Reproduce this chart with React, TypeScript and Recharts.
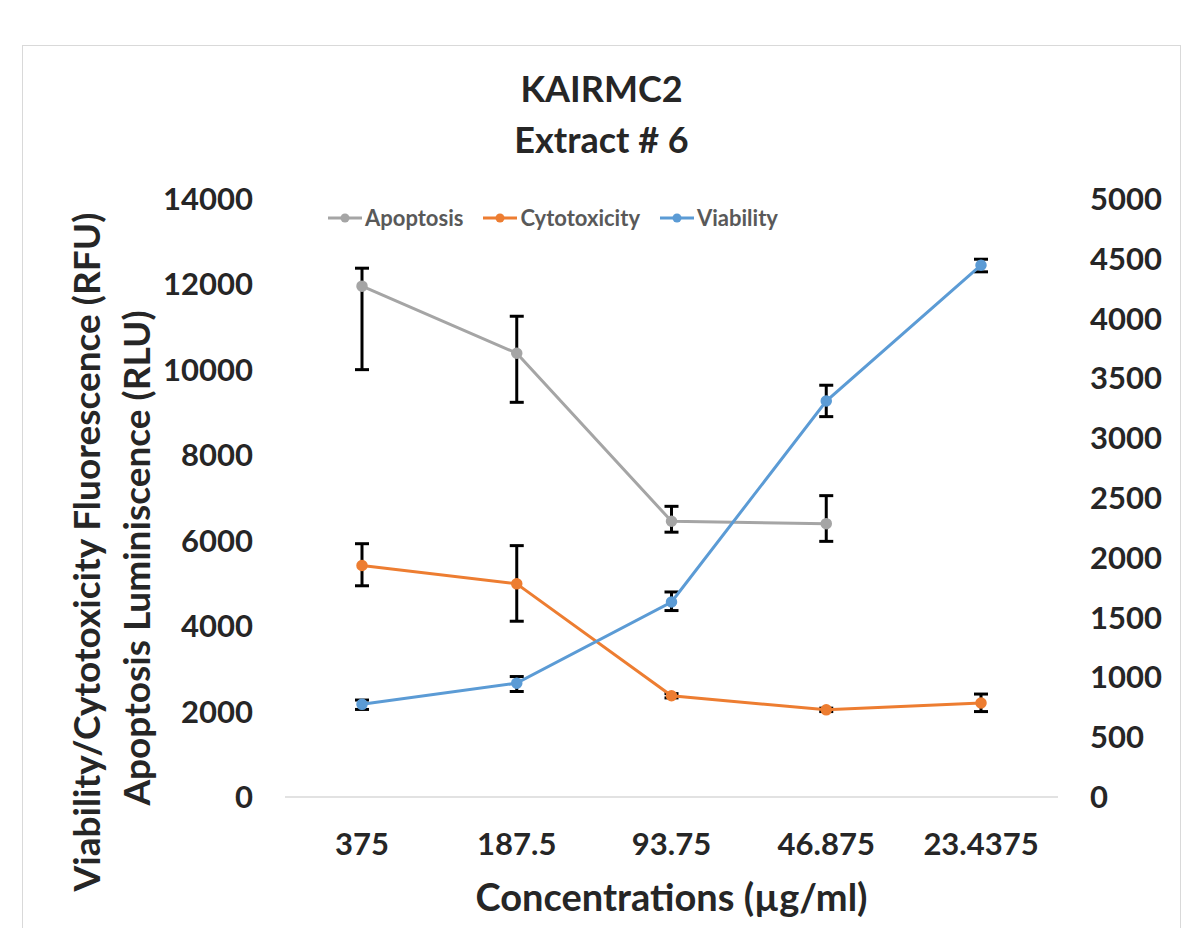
import React from 'react';
import { LineChart, Line, XAxis, YAxis, ErrorBar, Legend, Label } from 'recharts';

const concentrations = ['375', '187.5', '93.75', '46.875', '23.4375'];
const apoptosis = [11960, 10390, 6455, 6400, null];
const apoptosisErr = [[1955, 420], [1150, 865], [255, 350], [415, 655], null];
const cytotoxicity = [5420, 4990, 2370, 2040, 2200];
const cytotoxicityErr = [[475, 510], [875, 895], [50, 50], [40, 40], [200, 210]];
const viability = [2170, 2665, 4565, 9270, 12450];
const viabilityErr = [[120, 100], [195, 155], [200, 235], [365, 370], [155, 140]];

const leftTicks = [0, 2000, 4000, 6000, 8000, 10000, 12000, 14000];
const rightTicks = [0, 500, 1000, 1500, 2000, 2500, 3000, 3500, 4000, 4500, 5000];

const series = [
  { key: 'apoptosis', name: 'Apoptosis', color: '#A5A5A5' },
  { key: 'cytotoxicity', name: 'Cytotoxicity', color: '#ED7D31' },
  { key: 'viability', name: 'Viability', color: '#5B9BD5' },
];

const data = concentrations.map((c, i) => ({
  conc: c,
  apoptosis: apoptosis[i],
  apoptosisErr: apoptosisErr[i],
  cytotoxicity: cytotoxicity[i],
  cytotoxicityErr: cytotoxicityErr[i],
  viability: viability[i],
  viabilityErr: viabilityErr[i],
}));

const FONT = 'Lato, "Open Sans", sans-serif';
const TEXT = '#262626';

const YTitle = () => (
  <g>
    <text
      x={85}
      y={552}
      transform="rotate(-90 85 552)"
      textAnchor="middle"
      dominantBaseline="central"
      fill={TEXT}
      style={{ fontFamily: FONT, fontWeight: 700, fontSize: 37 }}
    >
      Viability/Cytotoxicity Fluorescence (RFU)
    </text>
    <text
      x={135}
      y={558}
      transform="rotate(-90 135 558)"
      textAnchor="middle"
      dominantBaseline="central"
      fill={TEXT}
      style={{ fontFamily: FONT, fontWeight: 700, fontSize: 37 }}
    >
      Apoptosis Luminiscence (RLU)
    </text>
  </g>
);

const renderLegend = () => (
  <div style={{ display: 'flex', alignItems: 'center', paddingLeft: 328, fontFamily: FONT }}>
    {series.map((s) => (
      <div key={s.key} style={{ display: 'flex', alignItems: 'center', marginRight: 20 }}>
        <svg width={34} height={12}>
          <line x1={0} y1={6} x2={34} y2={6} stroke={s.color} strokeWidth={3} />
          <circle cx={17} cy={6} r={4.5} fill={s.color} />
        </svg>
        <span style={{ marginLeft: 3, fontSize: 22, fontWeight: 700, color: '#595959' }}>{s.name}</span>
      </div>
    ))}
  </div>
);

export default function App() {
  return (
    <div style={{ position: 'fixed', left: 0, top: 0, width: 1185, height: 928, background: '#fff', overflow: 'hidden' }}>
      <div
        style={{
          position: 'absolute',
          left: 22,
          top: 45,
          width: 1157,
          height: 920,
          border: '1.5px solid #d9d9d9',
        }}
      />
      <div
        style={{
          position: 'absolute',
          left: 0,
          top: 63,
          width: 1203,
          textAlign: 'center',
          fontFamily: FONT,
          fontWeight: 700,
          fontSize: 36,
          lineHeight: '51px',
          color: TEXT,
        }}
      >
        <div>KAIRMC2</div>
        <div>Extract # 6</div>
      </div>
      <div style={{ position: 'absolute', left: 0, top: 0 }}>
        <LineChart width={1185} height={928} data={data} margin={{ top: 199, right: 27, bottom: 71, left: 185 }}>
          <XAxis
            dataKey="conc"
            height={60}
            padding={{ left: 77, right: 77 }}
            axisLine={{ stroke: '#d9d9d9', strokeWidth: 1.5 }}
            tickLine={false}
            tickMargin={30}
            tick={{ fill: TEXT, fontSize: 31, fontWeight: 700, fontFamily: FONT }}
          >
            <Label
              value="Concentrations (µg/ml)"
              position="insideBottom"
              offset={-54}
              style={{ fill: TEXT, fontSize: 38, fontWeight: 700, fontFamily: FONT }}
            />
          </XAxis>
          <YAxis
            yAxisId="left"
            width={100}
            domain={[0, 14000]}
            ticks={leftTicks}
            allowDataOverflow
            axisLine={false}
            tickLine={false}
            tickMargin={26}
            tick={{ fill: TEXT, fontSize: 31, fontWeight: 700, fontFamily: FONT }}
          >
            <Label content={YTitle} />
          </YAxis>
          <YAxis
            yAxisId="right"
            orientation="right"
            width={100}
            type="number"
            domain={[0, 5000]}
            ticks={rightTicks}
            allowDataOverflow
            axisLine={false}
            tickLine={false}
            tickMargin={26}
            tick={{ fill: TEXT, fontSize: 31, fontWeight: 700, fontFamily: FONT, textAnchor: 'start' }}
          />
          <Legend
            layout="horizontal"
            verticalAlign="middle"
            align="center"
            content={renderLegend}
            wrapperStyle={{ top: 204, left: 0, width: 1185 }}
          />
          {series.map((s) => (
            <Line
              key={s.key}
              yAxisId="left"
              type="linear"
              dataKey={s.key}
              name={s.name}
              stroke={s.color}
              strokeWidth={3}
              dot={{ r: 5, fill: s.color, stroke: s.color, strokeWidth: 1.5 }}
              activeDot={false}
              connectNulls={false}
              isAnimationActive={false}
            >
              <ErrorBar dataKey={`${s.key}Err`} direction="y" width={7} stroke="#000" strokeWidth={3} />
            </Line>
          ))}
        </LineChart>
      </div>
    </div>
  );
}
